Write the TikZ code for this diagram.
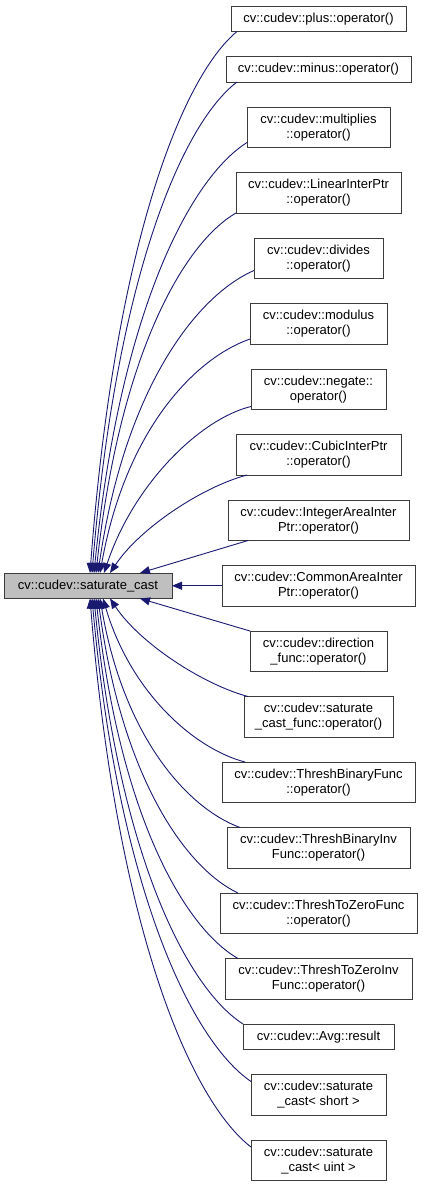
\documentclass[tikz,border=0pt]{standalone}
\usepackage{fontspec}
\setmainfont{Liberation Sans}
\usetikzlibrary{arrows.meta,positioning}
\definecolor{dnavy}{HTML}{191970}
\definecolor{dgrey}{HTML}{BFBFBF}
\definecolor{dline}{HTML}{3C3C3C}

\begin{document}
\begin{tikzpicture}[x=1pt,y=-1pt,node distance=25pt,every node/.style={font=\fontsize{13}{15}\selectfont,align=center},box/.style={draw=dline,line width=1pt,fill=white,inner xsep=3pt,inner ysep=1pt,outer sep=0pt,minimum height=25.5pt},two/.style={minimum height=40.5pt},call/.style={-{Triangle[length=10pt,width=8pt]},dnavy,line width=0.9pt}]
\useasboundingbox (0,0) rectangle (423,1186);
% callers, top to bottom
\node[box,minimum width=175pt] (plus) at (318.5,18.75) {cv::cudev::plus::operator()};
\node[box,minimum width=185pt,below=of plus] (minus) {cv::cudev::minus::operator()};
\node[box,two,minimum width=143pt,below=of minus] (mul) {cv::cudev::multiplies\\::operator()};
\node[box,two,minimum width=165pt,below=of mul] (lin) {cv::cudev::LinearInterPtr\\::operator()};
\node[box,two,minimum width=129pt,below=of lin] (div) {cv::cudev::divides\\::operator()};
\node[box,two,minimum width=137pt,below=of div] (mod) {cv::cudev::modulus\\::operator()};
\node[box,two,minimum width=135pt,below=of mod] (neg) {cv::cudev::negate::\\operator()};
\node[box,two,minimum width=165pt,below=of neg] (cub) {cv::cudev::CubicInterPtr\\::operator()};
\node[box,two,minimum width=181pt,below=of cub] (iai) {cv::cudev::IntegerAreaInter\\Ptr::operator()};
\node[box,two,minimum width=193pt,below=of iai] (cai) {cv::cudev::CommonAreaInter\\Ptr::operator()};
\node[box,two,minimum width=137pt,below=of cai] (dir) {cv::cudev::direction\\\_func::operator()};
\node[box,two,minimum width=149pt,below=of dir] (scf) {cv::cudev::saturate\\\_cast\_func::operator()};
\node[box,two,minimum width=193pt,below=of scf] (tbf) {cv::cudev::ThreshBinaryFunc\\::operator()};
\node[box,two,minimum width=183pt,below=of tbf] (tbi) {cv::cudev::ThreshBinaryInv\\Func::operator()};
\node[box,two,minimum width=197pt,below=of tbi] (tzf) {cv::cudev::ThreshToZeroFunc\\::operator()};
\node[box,two,minimum width=187pt,below=of tzf] (tzi) {cv::cudev::ThreshToZeroInv\\Func::operator()};
\node[box,minimum width=151pt,below=of tzi] (avg) {cv::cudev::Avg::result};
\node[box,two,minimum width=135pt,below=of avg] (short) {cv::cudev::saturate\\\_cast< short >};
\node[box,two,minimum width=135pt,below=of short] (uint) {cv::cudev::saturate\\\_cast< uint >};
% the function itself
\node[box,fill=dgrey,minimum width=168pt,left=50pt of cai] (sc) {cv::cudev::saturate\_cast};
% calls into the top
\draw[call] ([xshift=6pt]plus.south west) .. controls +(-54.4,44.9) and +(25,-330) .. ([xshift=86pt]sc.north west);
\draw[call] ([xshift=11pt]minus.south west) .. controls +(-53.7,40.8) and +(24.7,-299.5) .. ([xshift=88pt]sc.north west);
\draw[call] ([yshift=5pt]mul.south west) .. controls +(-56.6,35.7) and +(26,-262.3) .. ([xshift=90pt]sc.north west);
\draw[call] (lin.south west) .. controls +(-51.8,29.9) and +(23.8,-219.6) .. ([xshift=92pt]sc.north west);
\draw[call] ([yshift=8pt]div.south west) .. controls +(-57.7,25.1) and +(26.5,-184.2) .. ([xshift=94pt]sc.north west);
\draw[call] ([yshift=5pt]mod.south west) .. controls +(-55.5,19.4) and +(25.5,-142.7) .. ([xshift=96pt]sc.north west);
\draw[call] ([yshift=3pt]neg.south west) .. controls +(-50,12) and +(30,-90) .. ([xshift=100pt]sc.north west);
\draw[call] ([xshift=11pt]cub.south west) .. controls +(-45,12) and +(30,-45) .. ([xshift=106pt]sc.north west);
\draw[call] ([xshift=20pt]iai.south west) -- ([xshift=136pt]sc.north west);
\draw[call] (cai) -- (sc);
% calls into the bottom
\draw[call] (dir.north west) -- ([xshift=136pt]sc.south west);
\draw[call] ([xshift=4pt]scf.north west) .. controls +(-45,-12) and +(30,45) .. ([xshift=106pt]sc.south west);
\draw[call] ([xshift=23pt]tbf.north west) .. controls +(-50,-13) and +(28,95) .. ([xshift=99pt]sc.south west);
\draw[call] ([xshift=13pt]tbi.north west) .. controls +(-51.8,-19) and +(23.8,139.7) .. ([xshift=96pt]sc.south west);
\draw[call] ([xshift=18pt]tzf.north west) .. controls +(-51.8,-24.5) and +(23.8,180) .. ([xshift=94pt]sc.south west);
\draw[call] ([xshift=13pt]tzi.north west) .. controls +(-52.5,-29.9) and +(24.1,219.6) .. ([xshift=92pt]sc.south west);
\draw[call] (avg.north west) .. controls +(-55.1,-35.3) and +(25.3,259.3) .. ([xshift=90pt]sc.south west);
\draw[call] ([yshift=-7pt]short.north west) .. controls +(-58.5,-40.1) and +(26.9,294.6) .. ([xshift=88pt]sc.south west);
\draw[call] ([yshift=-7pt]uint.north west) .. controls +(-59.2,-45.6) and +(27.2,334.9) .. ([xshift=86pt]sc.south west);
\end{tikzpicture}
\end{document}
